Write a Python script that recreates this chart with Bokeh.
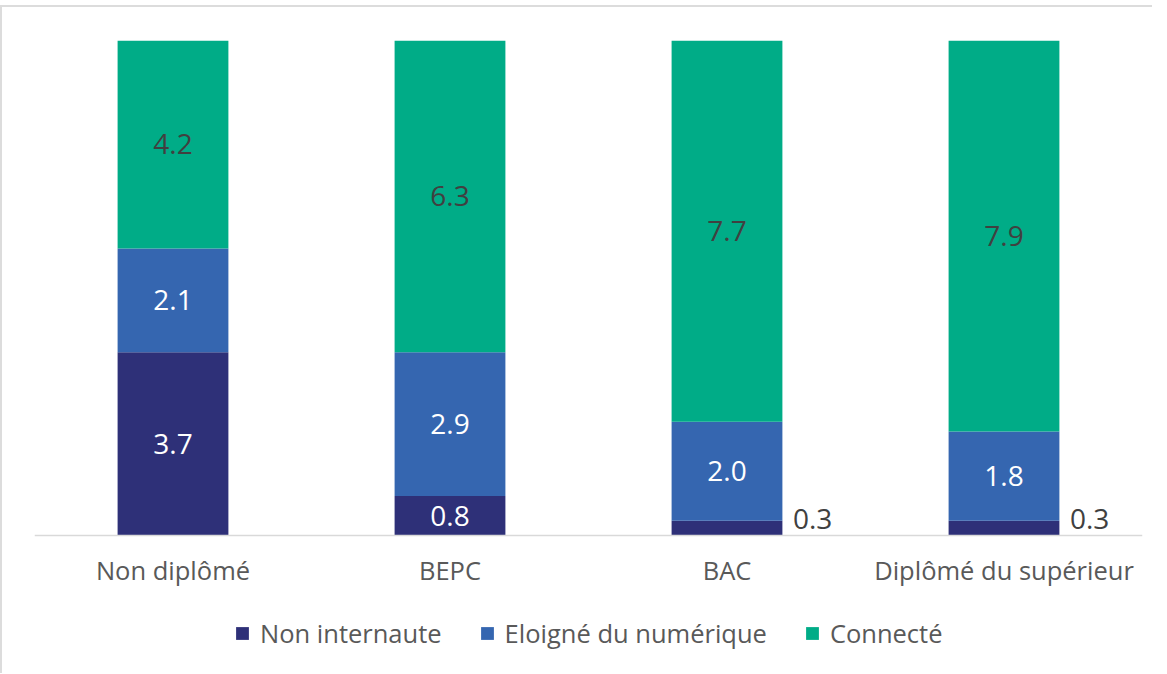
from bokeh.plotting import figure
from bokeh.models import ColumnDataSource, FactorRange, Range1d, Legend, LegendItem
from bokeh.core.properties import value
from bokeh.embed import file_html
from bokeh.resources import INLINE

categories = ["Non diplômé", "BEPC", "BAC", "Diplômé du supérieur"]
series = ["Non internaute", "Eloigné du numérique", "Connecté"]
non_internaute = [3.7, 0.8, 0.3, 0.3]
eloigne = [2.1, 2.9, 2.0, 1.8]
connecte = [4.2, 6.3, 7.7, 7.9]
colors = ["#2E3078", "#3566B0", "#00AC87"]
label_colors = ["#FFFFFF", "#FFFFFF", "#404040"]

FONT = "Open Sans"

# frame: 495 px for 0..10, extended downward to host the legend
BAR_PX = 495
FRAME_PX = 616
y_start = -(FRAME_PX - BAR_PX) / BAR_PX * 10

src = ColumnDataSource(dict(cat=categories, s0=non_internaute, s1=eloigne, s2=connecte))

p = figure(x_range=FactorRange(*categories), y_range=Range1d(y_start, 10),
           frame_width=1108, frame_height=FRAME_PX, output_backend="svg",
           toolbar_location=None,
           min_border_left=32, min_border_right=10, min_border_top=33,
           min_border_bottom=17)

rs = p.vbar_stack(["s0", "s1", "s2"], x="cat", width=0.4, color=colors,
                  line_color=None, source=src)

# data labels
lx, ly, lt, lc, la, lxo, lyo = [], [], [], [], [], [], []
all_series = [non_internaute, eloigne, connecte]
for i, c in enumerate(categories):
    bottom = 0.0
    for j, vals in enumerate(all_series):
        v = vals[i]
        lx.append(c)
        ly.append(bottom + v / 2)
        lt.append(f"{v:.1f}")
        if v < 0.5:
            lc.append("#404040")
            la.append("left")
            lxo.append(66)
            lyo.append(-9)
        else:
            lc.append(label_colors[j])
            la.append("center")
            lxo.append(0)
            lyo.append(0)
        bottom += v

lsrc = ColumnDataSource(dict(x=lx, y=ly, t=lt, c=lc, a=la, xo=lxo, yo=lyo))
p.text(x="x", y="y", text="t", text_color="c", text_align="a", x_offset="xo",
       y_offset="yo", text_baseline="middle", text_font=value(FONT),
       text_font_size="28px", source=lsrc)

p.xaxis.fixed_location = 0
p.xaxis.axis_line_color = "#D9D9D9"
p.xaxis.axis_line_width = 1.5
p.xaxis.major_tick_line_color = None
p.xaxis.minor_tick_line_color = None
p.xaxis.major_label_standoff = 11
p.xaxis.major_label_text_font = FONT
p.xaxis.major_label_text_font_size = "25.5px"
p.xaxis.major_label_text_color = "#595959"
p.yaxis.visible = False
p.xgrid.grid_line_color = None
p.ygrid.grid_line_color = None
p.outline_line_color = None

legend = Legend(items=[LegendItem(label=s, renderers=[r]) for s, r in zip(series, rs)],
                orientation="horizontal", location=(200, 6),
                glyph_width=16, glyph_height=16, label_standoff=10, spacing=37,
                label_text_font=FONT, label_text_font_size="25.5px",
                label_text_color="#595959", border_line_color=None,
                background_fill_alpha=0, padding=0, margin=0)
p.add_layout(legend, "center")

p.styles = {"margin-top": "5px", "border-left": "2px solid #DCDCDC",
            "border-top": "2px solid #DCDCDC", "max-height": "669px",
            "overflow": "hidden"}

open("out.html", "w").write(file_html(p, INLINE))
